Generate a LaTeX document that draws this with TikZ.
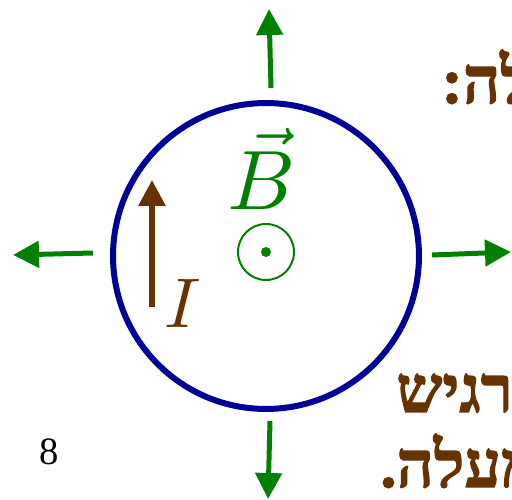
\documentclass[tikz,border=0pt]{standalone}
\usepackage{fontspec}
\usepackage{graphicx}
\usetikzlibrary{arrows.meta}
\TeXXeTstate=1
\newfontfamily\hebfont[Script=Hebrew, FakeBold=1.8]{Liberation Serif Bold}
\newfontfamily\numfont{Liberation Serif}
\definecolor{gr}{RGB}{0,128,0}
\definecolor{br}{RGB}{102,51,0}
\definecolor{nv}{RGB}{0,0,153}
\begin{document}
\begin{tikzpicture}[x=0.02cm,y=-0.02cm,
  garrow/.style={draw=gr, fill=gr, line width=0.1cm, -{Triangle[length=0.52cm,width=0.52cm]}},
  barrow/.style={draw=br, fill=br, line width=0.12cm, -{Triangle[length=0.52cm,width=0.52cm]}},
  heb/.style={text=br, font={\hebfont\fontsize{37}{37}\selectfont}, inner sep=0pt, anchor=base west},
  loop/.style={circle, draw=nv, line width=0.12cm, minimum size=6.12cm, inner sep=0pt}]
\useasboundingbox (0,0) rectangle (512,500);
\clip (0,0) rectangle (512,500);
% loop
\node[loop] (ring) at (266,256) {};
% outward green arrows
\coordinate (t0) at (271,88);  \coordinate (t1) at (269,9);
\coordinate (l0) at (93,253);  \coordinate (l1) at (13,255);
\coordinate (r0) at (432,255); \coordinate (r1) at (511,252);
\coordinate (b0) at (270,421); \coordinate (b1) at (268,499);
\draw[garrow] (t0) -- (t1);
\draw[garrow] (l0) -- (l1);
\draw[garrow] (r0) -- (r1);
\draw[garrow] (b0) -- (b1);
% current
\coordinate (i0) at (152,307); \coordinate (i1) at (152,180);
\draw[barrow] (i0) -- (i1);
\node[text=br, inner sep=0pt, anchor=base] (ilab) at (183,328) {\scalebox{4.0}{$I$}};
% field
\node[text=gr, inner sep=0pt, anchor=base] (blab) at (262,210) {\scalebox{4.8}{$\vec{B}$}};
\node[circle, draw=gr, line width=0.04cm, minimum size=1.12cm, inner sep=0pt] (bout) at (266,252) {};
\fill[gr] (bout.center) circle[radius=0.1cm];
% page number
\node[inner sep=0pt, anchor=base, font={\numfont\fontsize{22}{22}\selectfont}] (pg) at (49,465) {8};
% hebrew text
\node[heb] (h1) at (441,103) {\beginR לה:\endR};
\node[heb] (h2) at (396,412) {\beginR רגיש\endR};
\node[heb] (h3) at (380,487) {\beginR מעלה.\endR};
\end{tikzpicture}
\end{document}
